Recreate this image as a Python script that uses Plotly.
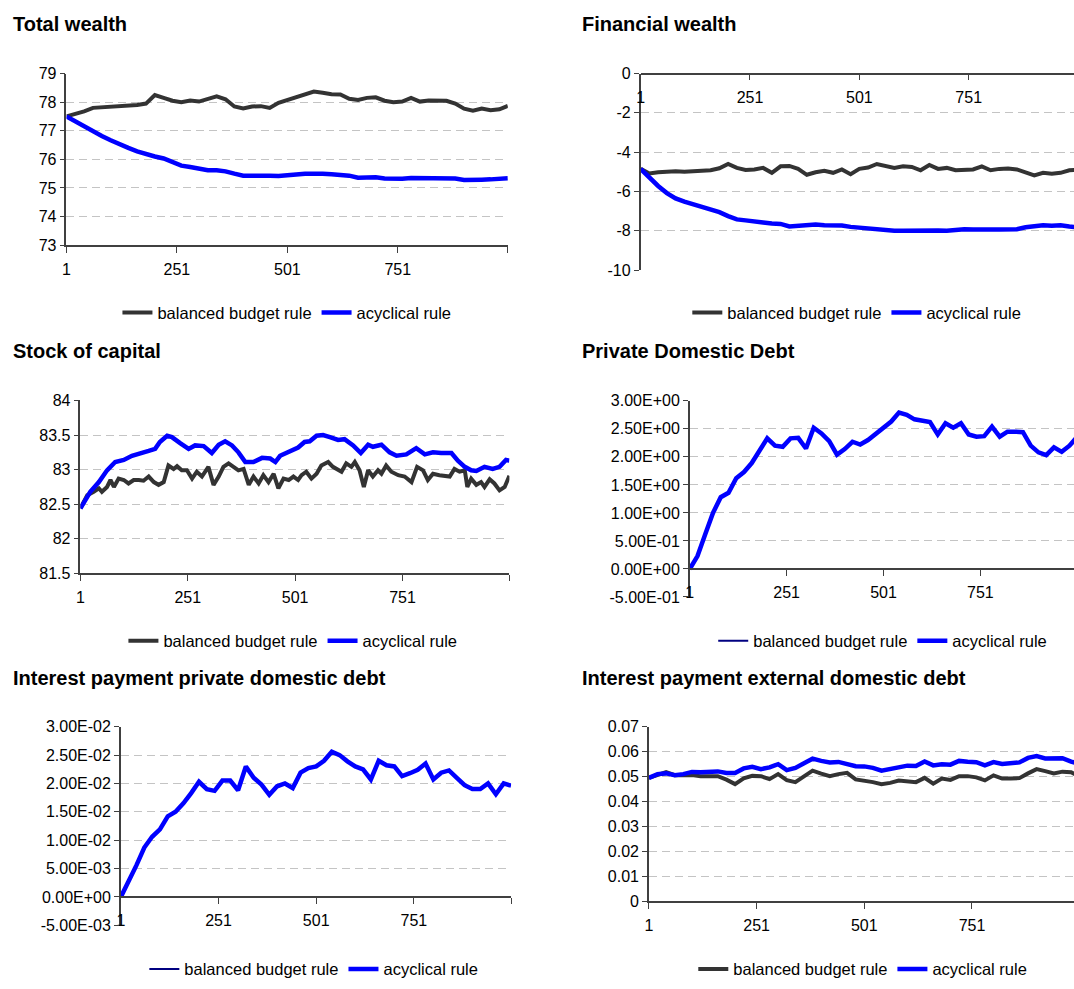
import plotly.graph_objects as go

# ---------------------------------------------------------------------------
# Simulation output (periods 1..1000)
# ---------------------------------------------------------------------------
periods = list(range(1, 1000, 20)) + [1000]

total_wealth_bal = [77.50, 77.58, 77.68, 77.80, 77.82, 77.85, 77.84, 77.87, 77.90, 77.95,
                    78.25, 78.15, 78.05, 78.00, 78.06, 78.02, 78.10, 78.20, 78.10, 77.85,
                    77.78, 77.85, 77.86, 77.80, 77.98, 78.08, 78.20, 78.30, 78.37, 78.33,
                    78.28, 78.27, 78.12, 78.08, 78.15, 78.17, 78.05, 78.00, 78.02, 78.15,
                    78.02, 78.06, 78.07, 78.05, 77.95, 77.77, 77.70, 77.78, 77.72, 77.75, 77.87]
total_wealth_acy = [77.50, 77.32, 77.15, 76.98, 76.82, 76.67, 76.52, 76.40, 76.28, 76.17,
                    76.10, 76.03, 75.90, 75.78, 75.73, 75.68, 75.62, 75.62, 75.58, 75.50,
                    75.43, 75.43, 75.44, 75.43, 75.42, 75.46, 75.47, 75.50, 75.51, 75.50,
                    75.48, 75.45, 75.43, 75.36, 75.37, 75.37, 75.33, 75.32, 75.32, 75.35,
                    75.35, 75.34, 75.36, 75.36, 75.33, 75.28, 75.27, 75.29, 75.30, 75.31, 75.34]

financial_wealth_bal = [-4.85, -5.08, -5.02, -4.98, -4.97, -5.00, -4.98, -4.93, -4.92, -4.82,
                        -4.60, -4.80, -4.90, -4.88, -4.80, -5.05, -4.72, -4.70, -4.85, -5.15,
                        -5.02, -4.95, -5.05, -4.88, -5.12, -4.85, -4.78, -4.60, -4.70, -4.80,
                        -4.72, -4.75, -4.92, -4.65, -4.85, -4.80, -4.92, -4.90, -4.88, -4.72,
                        -4.92, -4.85, -4.83, -4.88, -5.05, -5.18, -5.05, -5.10, -5.05, -4.92, -4.90]
financial_wealth_acy = [-4.85, -5.30, -5.72, -6.08, -6.35, -6.52, -6.65, -6.78, -6.92, -7.05,
                        -7.25, -7.42, -7.47, -7.50, -7.58, -7.63, -7.65, -7.78, -7.75, -7.72,
                        -7.68, -7.72, -7.73, -7.73, -7.80, -7.84, -7.88, -7.94, -8.00, -8.00,
                        -8.00, -7.99, -7.97, -7.96, -7.98, -8.00, -7.95, -7.92, -7.93, -7.95,
                        -7.94, -7.93, -7.92, -7.92, -7.82, -7.75, -7.72, -7.74, -7.72, -7.78, -7.82]

# stock of capital: read at the turning points of each path
capital_bal_periods = [1, 17, 32, 44, 51, 63, 71, 79, 90, 102,
                       113, 125, 137, 148, 160, 172, 183, 195, 206, 218,
                       226, 237, 249, 261, 272, 284, 299, 311, 323, 334,
                       346, 358, 369, 381, 393, 404, 416, 427, 439, 451,
                       462, 474, 486, 497, 508, 516, 527, 539, 551, 562,
                       578, 589, 609, 620, 632, 640, 651, 661, 671, 682,
                       694, 702, 713, 725, 741, 756, 772, 785, 799, 810,
                       822, 837, 861, 872, 884, 896, 902, 911, 923, 934,
                       942, 954, 965, 977, 989, 1000]
capital_bal = [82.44, 82.63, 82.68, 82.73, 82.68, 82.75, 82.85, 82.75, 82.87, 82.85,
               82.80, 82.85, 82.85, 82.84, 82.90, 82.82, 82.78, 82.82, 83.06, 83.01,
               83.05, 82.99, 82.99, 82.87, 82.97, 82.90, 83.04, 82.78, 82.90, 83.04,
               83.09, 83.04, 82.99, 83.01, 82.78, 82.90, 82.80, 82.92, 82.82, 82.94,
               82.73, 82.87, 82.85, 82.90, 82.85, 82.92, 82.97, 82.87, 82.94, 83.06,
               83.11, 83.04, 82.97, 83.09, 83.04, 83.11, 82.99, 82.75, 82.99, 82.90,
               82.99, 82.94, 83.06, 82.97, 82.92, 82.90, 82.82, 83.04, 82.99, 82.85,
               82.94, 82.92, 82.90, 83.01, 82.97, 82.99, 82.75, 82.87, 82.78, 82.82,
               82.75, 82.86, 82.80, 82.70, 82.75, 82.91]
capital_acy_periods = [1, 24, 44, 63, 82, 102, 121, 141, 160, 175,
                       186, 203, 214, 234, 253, 268, 288, 307, 323, 338,
                       354, 369, 385, 404, 424, 443, 455, 466, 482, 497,
                       508, 523, 535, 551, 566, 582, 601, 616, 636, 654,
                       671, 682, 702, 721, 737, 760, 783, 803, 822, 841,
                       865, 880, 896, 911, 923, 942, 961, 977, 992, 1000]
capital_acy = [82.44, 82.68, 82.82, 82.99, 83.11, 83.14, 83.20, 83.23, 83.27, 83.30,
               83.40, 83.49, 83.47, 83.38, 83.30, 83.35, 83.34, 83.24, 83.36, 83.41,
               83.35, 83.25, 83.11, 83.11, 83.17, 83.16, 83.11, 83.20, 83.25, 83.30,
               83.32, 83.40, 83.41, 83.49, 83.50, 83.47, 83.43, 83.44, 83.35, 83.24,
               83.36, 83.33, 83.36, 83.25, 83.20, 83.22, 83.31, 83.22, 83.25, 83.24,
               83.24, 83.13, 83.04, 82.99, 82.98, 83.04, 83.01, 83.04, 83.14, 83.13]

private_debt_bal = [0.0, 0.0, 0.0, 0.0, 0.0, 0.0, 0.0, 0.0, 0.0, 0.0,
                    0.0, 0.0, 0.0, 0.0, 0.0, 0.0, 0.0, 0.0, 0.0, 0.0,
                    0.0, 0.0, 0.0, 0.0, 0.0, 0.0, 0.0, 0.0, 0.0, 0.0,
                    0.0, 0.0, 0.0, 0.0, 0.0, 0.0, 0.0, 0.0, 0.0, 0.0,
                    0.0, 0.0, 0.0, 0.0, 0.0, 0.0, 0.0, 0.0, 0.0, 0.0, 0.0]
private_debt_acy = [0.00, 0.23, 0.62, 1.00, 1.28, 1.36, 1.62, 1.73, 1.89, 2.13,
                    2.33, 2.20, 2.18, 2.33, 2.34, 2.15, 2.52, 2.42, 2.28, 2.04,
                    2.14, 2.27, 2.22, 2.30, 2.41, 2.51, 2.63, 2.79, 2.75, 2.67,
                    2.64, 2.62, 2.40, 2.60, 2.52, 2.60, 2.40, 2.36, 2.37, 2.54,
                    2.36, 2.45, 2.45, 2.44, 2.20, 2.08, 2.03, 2.17, 2.09, 2.20, 2.35]

interest_private_bal = [0.0, 0.0, 0.0, 0.0, 0.0, 0.0, 0.0, 0.0, 0.0, 0.0,
                        0.0, 0.0, 0.0, 0.0, 0.0, 0.0, 0.0, 0.0, 0.0, 0.0,
                        0.0, 0.0, 0.0, 0.0, 0.0, 0.0, 0.0, 0.0, 0.0, 0.0,
                        0.0, 0.0, 0.0, 0.0, 0.0, 0.0, 0.0, 0.0, 0.0, 0.0,
                        0.0, 0.0, 0.0, 0.0, 0.0, 0.0, 0.0, 0.0, 0.0, 0.0, 0.0]
interest_private_acy = [0.0000, 0.0026, 0.0056, 0.0087, 0.0106, 0.0119, 0.0142, 0.0150, 0.0165, 0.0183,
                        0.0203, 0.0190, 0.0187, 0.0205, 0.0205, 0.0188, 0.0230, 0.0210, 0.0198, 0.0180,
                        0.0195, 0.0200, 0.0192, 0.0219, 0.0227, 0.0230, 0.0240, 0.0256, 0.0250, 0.0239,
                        0.0230, 0.0225, 0.0207, 0.0240, 0.0232, 0.0230, 0.0213, 0.0218, 0.0224, 0.0235,
                        0.0207, 0.0219, 0.0223, 0.0210, 0.0197, 0.0190, 0.0190, 0.0200, 0.0181, 0.0200, 0.0196]

interest_external_bal = [0.0495, 0.0508, 0.0518, 0.0506, 0.0508, 0.0506, 0.0502, 0.0504, 0.0502, 0.0488,
                         0.0470, 0.0493, 0.0503, 0.0502, 0.0490, 0.0510, 0.0486, 0.0478, 0.0500, 0.0524,
                         0.0512, 0.0502, 0.0510, 0.0515, 0.0489, 0.0485, 0.0478, 0.0470, 0.0475, 0.0484,
                         0.0480, 0.0478, 0.0495, 0.0472, 0.0492, 0.0487, 0.0502, 0.0502, 0.0497, 0.0485,
                         0.0505, 0.0492, 0.0492, 0.0494, 0.0513, 0.0530, 0.0522, 0.0513, 0.0520, 0.0518, 0.0500]
interest_external_acy = [0.0495, 0.0510, 0.0513, 0.0506, 0.0510, 0.0519, 0.0518, 0.0521, 0.0521, 0.0515,
                         0.0515, 0.0533, 0.0539, 0.0530, 0.0537, 0.0550, 0.0526, 0.0535, 0.0556, 0.0572,
                         0.0563, 0.0557, 0.0559, 0.0549, 0.0542, 0.0541, 0.0535, 0.0524, 0.0530, 0.0537,
                         0.0544, 0.0543, 0.0561, 0.0545, 0.0550, 0.0548, 0.0563, 0.0560, 0.0558, 0.0545,
                         0.0558, 0.0551, 0.0554, 0.0557, 0.0575, 0.0582, 0.0573, 0.0572, 0.0574, 0.0560, 0.0552]

# Tick values
x_tickvals = [1, 251, 501, 751, 1000]
x_ticktext = ["1", "251", "501", "751", ""]

titles = ["Total wealth", "Financial wealth", "Stock of capital",
          "Private Domestic Debt", "Interest payment private domestic debt",
          "Interest payment external domestic debt"]
series_names = ["balanced budget rule", "acyclical rule"]

y_ticks = [
    [73, 74, 75, 76, 77, 78, 79],
    [-10, -8, -6, -4, -2, 0],
    [81.5, 82, 82.5, 83, 83.5, 84],
    [-0.5, 0.0, 0.5, 1.0, 1.5, 2.0, 2.5, 3.0],
    [-0.005, 0.0, 0.005, 0.01, 0.015, 0.02, 0.025, 0.03],
    [0, 0.01, 0.02, 0.03, 0.04, 0.05, 0.06, 0.07],
]
y_ticktext = [
    [str(v) for v in y_ticks[0]],
    [str(v) for v in y_ticks[1]],
    ["81.5", "82", "82.5", "83", "83.5", "84"],
    ["%.2E" % v for v in y_ticks[3]],
    ["%.2E" % v for v in y_ticks[4]],
    ["0", "0.01", "0.02", "0.03", "0.04", "0.05", "0.06", "0.07"],
]

bal_series = [(periods, total_wealth_bal), (periods, financial_wealth_bal),
              (capital_bal_periods, capital_bal), (periods, private_debt_bal),
              (periods, interest_private_bal), (periods, interest_external_bal)]
acy_series = [(periods, total_wealth_acy), (periods, financial_wealth_acy),
              (capital_acy_periods, capital_acy), (periods, private_debt_acy),
              (periods, interest_private_acy), (periods, interest_external_acy)]

# ---------------------------------------------------------------------------
# Page geometry (pixels)
# ---------------------------------------------------------------------------
W, H = 1074, 989
FONT = "Arial, 'Liberation Sans', Helvetica, sans-serif"
GRAY = "#333333"
BLUE = "#0000ff"
NAVY = "#000080"
AXIS = "#404040"

# plot area: left, right, top, bottom, x-range end, pixel row of the category axis
panels = [
    dict(l=62.7, r=505.7, t=66.7, b=241.3, xend=1000, axis_px=None, tx=7, ty=16, lx=284, ly=310),
    dict(l=639.0, r=1074, t=66.7, b=266.7, xend=991.7, axis_px=66.7, tx=578, ty=16, lx=856, ly=310),
    dict(l=76.7, r=507.3, t=399.3, b=575.3, xend=1000, axis_px=None, tx=7, ty=349, lx=290, ly=644),
    dict(l=688.3, r=1074, t=399.7, b=599.3, xend=992.7, axis_px=570.7, tx=578, ty=349, lx=882, ly=644),
    dict(l=117.3, r=509.0, t=731.3, b=933.3, xend=1000, axis_px=904.7, tx=7, ty=682, lx=311, ly=978),
    dict(l=647.3, r=1074, t=731.3, b=909.0, xend=987.8, axis_px=None, tx=578, ty=682, lx=862, ly=978),
]


def fx(px):
    return px / W


def fy(py):
    return 1 - py / H


fig = go.Figure()
layout = dict(
    width=W, height=H,
    margin=dict(l=0, r=0, t=0, b=0),
    paper_bgcolor="white", plot_bgcolor="white",
    font=dict(family=FONT, size=16, color="#000000"),
    showlegend=True,
    annotations=[],
)

for i, p in enumerate(panels):
    n = i + 1
    sfx = "" if n == 1 else str(n)
    legend_id = "legend" if n == 1 else "legend%d" % n
    flat = n in (4, 5)

    bx, by = bal_series[i]
    ax_, ay = acy_series[i]
    fig.add_trace(go.Scatter(
        x=bx, y=by, mode="lines", name=series_names[0],
        line=dict(color=NAVY if flat else GRAY, width=2 if flat else 4),
        xaxis="x" + sfx, yaxis="y" + sfx, legend=legend_id,
    ))
    fig.add_trace(go.Scatter(
        x=ax_, y=ay, mode="lines", name=series_names[1],
        line=dict(color=BLUE, width=4.5),
        xaxis="x" + sfx, yaxis="y" + sfx, legend=legend_id,
    ))

    xa = dict(
        domain=[fx(p["l"]), fx(p["r"])],
        range=[1, p["xend"]],
        tickvals=x_tickvals, ticktext=x_ticktext,
        ticks="outside", ticklen=6, tickcolor=AXIS, tickwidth=1,
        showline=True, linecolor=AXIS, linewidth=1.5,
        showgrid=False, zeroline=False,
        tickfont=dict(size=16, color="#000000"),
        ticklabelstandoff=3,
        fixedrange=True,
    )
    if p["axis_px"] is None:
        xa["anchor"] = "y" + sfx
    else:
        xa["anchor"] = "free"
        xa["position"] = fy(p["axis_px"])

    ya = dict(
        domain=[fy(p["b"]), fy(p["t"])],
        range=[y_ticks[i][0], y_ticks[i][-1]],
        anchor="x" + sfx,
        tickvals=y_ticks[i], ticktext=y_ticktext[i],
        ticks="outside", ticklen=5, tickcolor=AXIS, tickwidth=1,
        showline=True, linecolor=AXIS, linewidth=1.5,
        showgrid=True, gridcolor="#c4c4c4", gridwidth=1, griddash="8px,5px",
        zeroline=False,
        tickfont=dict(size=16, color="#000000"),
        fixedrange=True,
    )
    layout["xaxis" + sfx] = xa
    layout["yaxis" + sfx] = ya

    layout[legend_id] = dict(
        orientation="h", x=fx(p["lx"]), y=fy(p["ly"]),
        xanchor="center", yanchor="middle",
        font=dict(size=16.5, color="#000000"),
        bgcolor="rgba(0,0,0,0)", itemclick=False, itemdoubleclick=False,
        tracegroupgap=0,
    )

    layout["annotations"].append(dict(
        text="<b>%s</b>" % titles[i], xref="paper", yref="paper",
        x=fx(p["tx"]), y=fy(p["ty"]), xanchor="left", yanchor="middle",
        showarrow=False, font=dict(size=20, color="#000000"),
    ))

fig.update_layout(**layout)
fig.write_html("out.html")
